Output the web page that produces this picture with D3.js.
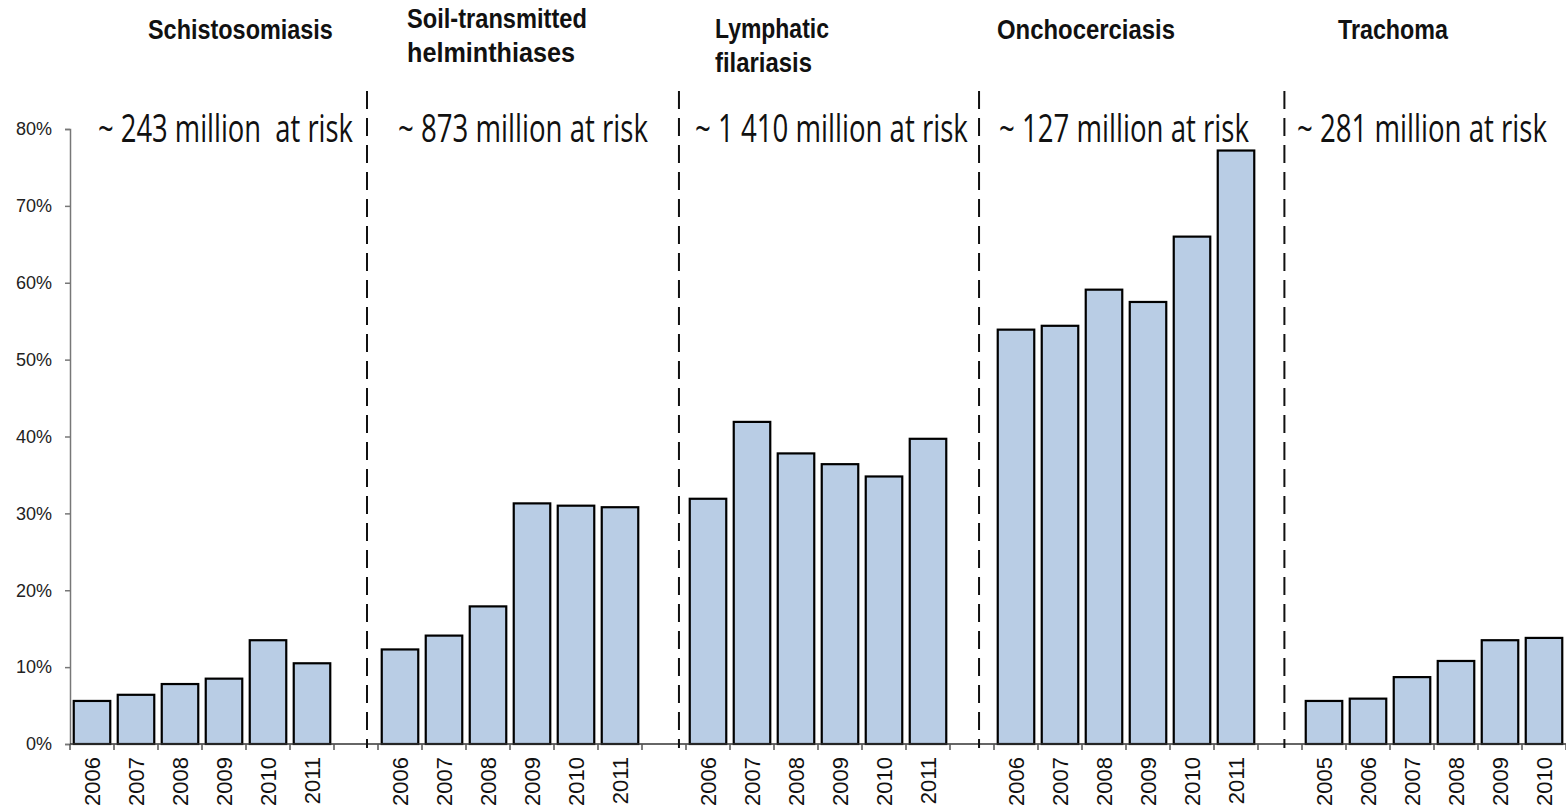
<!DOCTYPE html>
<html>
<head>
<meta charset="utf-8">
<script src="https://cdn.jsdelivr.net/npm/d3@7"></script>
<style>
  body { margin: 0; background: #fff; }
  #chart { width: 1566px; height: 811px; }
  .ytick text { font-family: "Liberation Sans", Arial, sans-serif; font-size: 18px; fill: #222; }
  .xtick text { font-family: "Liberation Sans", Arial, sans-serif; font-size: 22px; fill: #111; }
  .title { font-family: "Liberation Sans", Arial, sans-serif; font-weight: bold; font-size: 27px; fill: #111; }
  .risk { font-family: "Open Sans", sans-serif; font-size: 38px; fill: #111; white-space: pre; }
</style>
</head>
<body>
<div id="chart"></div>
<script>
// data
const diseases = ["Schistosomiasis", "Soil-transmitted helminthiases", "Lymphatic filariasis", "Onchocerciasis", "Trachoma"];
const riskLabels = ["~ 243 million  at risk", "~ 873 million at risk", "~ 1 410 million at risk", "~ 127 million at risk", "~ 281 million at risk"];
const years = [
  ["2006", "2007", "2008", "2009", "2010", "2011"],
  ["2006", "2007", "2008", "2009", "2010", "2011"],
  ["2006", "2007", "2008", "2009", "2010", "2011"],
  ["2006", "2007", "2008", "2009", "2010", "2011"],
  ["2005", "2006", "2007", "2008", "2009", "2010"]
];
const schisto = [5.6, 6.4, 7.8, 8.5, 13.5, 10.5];
const sth = [12.3, 14.1, 17.9, 31.3, 31.0, 30.8];
const lf = [31.9, 41.9, 37.8, 36.4, 34.8, 39.7];
const oncho = [53.9, 54.4, 59.1, 57.5, 66.0, 77.2];
const trachoma = [5.6, 5.9, 8.7, 10.8, 13.5, 13.8];
const yTicks = [0, 10, 20, 30, 40, 50, 60, 70, 80];
// dashed dividers, in category-slot units
const dividers = [6.75, 13.84, 20.66, 27.6];

const values = [schisto, sth, lf, oncho, trachoma];

const margin = { top: 129, left: 70, right: 0, bottom: 67 };
const W = 1566, H = 811;
const width = W - margin.left - margin.right;
const height = H - margin.top - margin.bottom;

// build slots: 6 years per disease, one empty slot between groups
const slots = [];
const bars = [];
values.forEach((vals, g) => {
  vals.forEach((v, i) => {
    const key = g + "-" + i;
    slots.push({ key: key, label: years[g][i] });
    bars.push({ key: key, value: v });
  });
  if (g < values.length - 1) slots.push({ key: g + "-gap", label: "" });
});

const x = d3.scaleBand().domain(slots.map(d => d.key)).range([0, width]).paddingInner(0.17).paddingOuter(0.085);
const xLin = d3.scaleLinear().domain([0, slots.length]).range([0, width]);
const y = d3.scaleLinear().domain([0, 80]).range([height, 0]);

const svg = d3.select("#chart").append("svg").attr("width", W).attr("height", H);
const chart = svg.append("g").attr("transform", `translate(${margin.left},${margin.top})`);

// y axis
const yAxis = chart.append("g").attr("class", "ytick")
  .call(d3.axisLeft(y).tickValues(yTicks).tickSize(5).tickPadding(13).tickFormat(d => d + "%"));
yAxis.select(".domain").attr("stroke", "#777").attr("stroke-width", 1.5);
yAxis.selectAll(".tick line").attr("stroke", "#777").attr("stroke-width", 1.5);

// bars
chart.selectAll(".bar")
  .data(bars)
  .enter()
    .append("rect")
    .attr("class", "bar")
    .attr("x", d => x(d.key))
    .attr("y", d => y(d.value))
    .attr("width", x.bandwidth())
    .attr("height", d => height - y(d.value))
    .attr("fill", "#b9cde5")
    .attr("stroke", "#000")
    .attr("stroke-width", 2.2);

// x axis line + boundary ticks
const xa = chart.append("g").attr("transform", `translate(0,${height})`);
xa.append("line").attr("x1", 0).attr("x2", width).attr("stroke", "#333").attr("stroke-width", 1.5);
xa.selectAll(".btick")
  .data(d3.range(0, slots.length + 1))
  .enter()
    .append("line")
    .attr("x1", d => xLin(d)).attr("x2", d => xLin(d))
    .attr("y1", 0).attr("y2", 6)
    .attr("stroke", "#555").attr("stroke-width", 1.5);

xa.selectAll(".xtick")
  .data(slots.filter(d => d.label))
  .enter()
    .append("g")
    .attr("class", "xtick")
    .attr("transform", d => `translate(${x(d.key) + x.bandwidth() / 2},13) rotate(-90)`)
    .append("text")
    .attr("text-anchor", "end")
    .attr("dy", "0.36em")
    .text(d => d.label);

// dashed dividers
chart.selectAll(".divider")
  .data(dividers)
  .enter()
    .append("line")
    .attr("x1", d => xLin(d)).attr("x2", d => xLin(d))
    .attr("y1", -38).attr("y2", height + 4)
    .attr("stroke", "#111").attr("stroke-width", 2)
    .attr("stroke-dasharray", "18,9");

// squeeze a text horizontally so it spans w pixels
function squeeze(sel, px, py, w) {
  const natural = sel.node().getComputedTextLength();
  sel.attr("transform", `translate(${px},${py}) scale(${w / natural},1)`);
}

// titles
const titleSpec = [
  { lines: ["Schistosomiasis"], x: 148, y: 39, w: [185] },
  { lines: ["Soil-transmitted", "helminthiases"], x: 407, y: 28, w: [180, 168] },
  { lines: ["Lymphatic", "filariasis"], x: 715, y: 38, w: [114, 97] },
  { lines: ["Onchocerciasis"], x: 997, y: 39, w: [178] },
  { lines: ["Trachoma"], x: 1338, y: 39, w: [110] }
];
titleSpec.forEach(t => {
  t.lines.forEach((ln, i) => {
    const tx = svg.append("text").attr("class", "title").text(ln);
    squeeze(tx, t.x, t.y + i * 34, t.w[i]);
  });
});

// at-risk labels
const riskPos = [{ x: 98, w: 255 }, { x: 398, w: 250 }, { x: 695, w: 273 }, { x: 999, w: 250 }, { x: 1297, w: 250 }];
riskLabels.forEach((lbl, i) => {
  const tx = svg.append("text").attr("class", "risk").attr("xml:space", "preserve").text(lbl);
  squeeze(tx, riskPos[i].x, 142, riskPos[i].w);
});
</script>
</body>
</html>
